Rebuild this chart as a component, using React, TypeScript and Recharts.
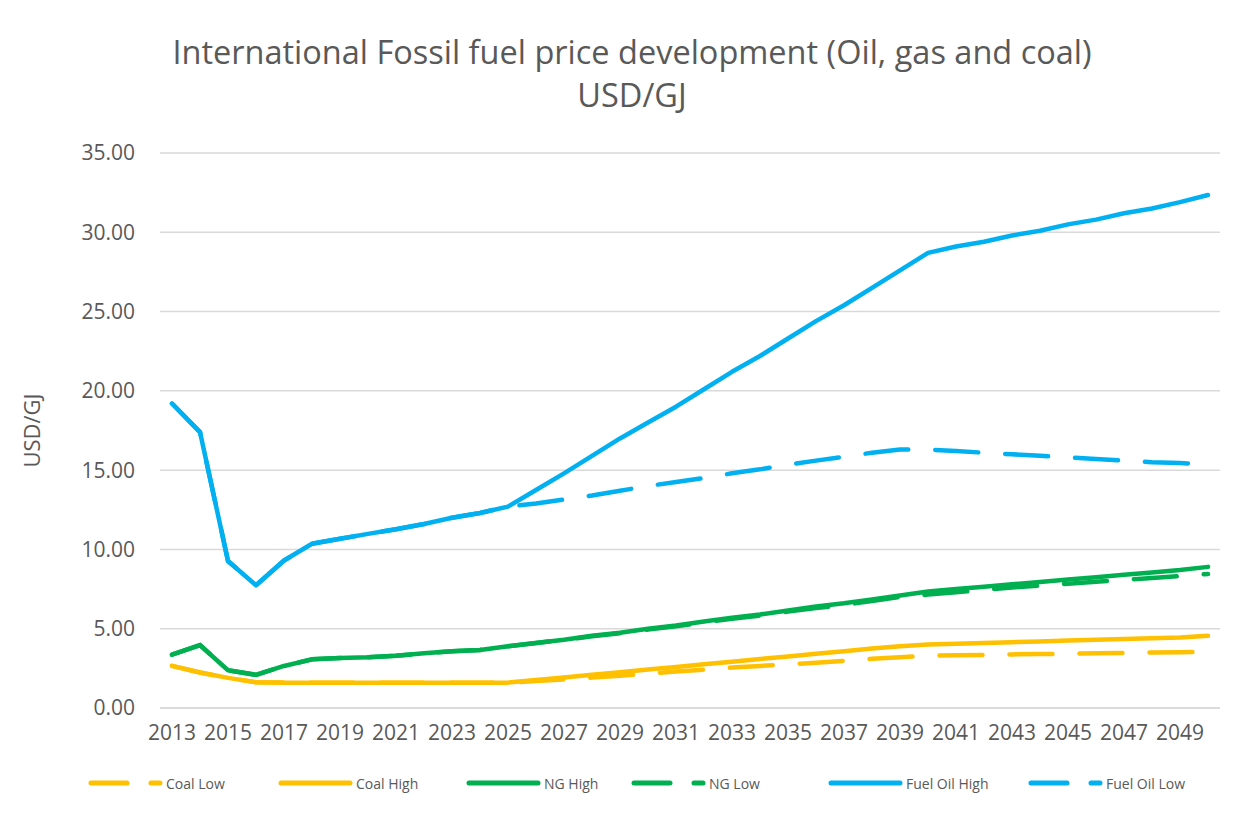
import React from "react";
import { LineChart, Line, XAxis, YAxis, CartesianGrid } from "recharts";

const years = [
  2013, 2014, 2015, 2016, 2017, 2018, 2019, 2020, 2021, 2022, 2023, 2024, 2025,
  2026, 2027, 2028, 2029, 2030, 2031, 2032, 2033, 2034, 2035, 2036, 2037, 2038,
  2039, 2040, 2041, 2042, 2043, 2044, 2045, 2046, 2047, 2048, 2049, 2050,
];

const coalLow = [
  2.66, 2.24, 1.9, 1.62, 1.6, 1.6, 1.6, 1.6, 1.6, 1.6, 1.6, 1.6, 1.6,
  1.7, 1.8, 1.92, 2.04, 2.16, 2.3, 2.42, 2.55, 2.65, 2.75, 2.85, 2.97, 3.1,
  3.2, 3.3, 3.32, 3.35, 3.38, 3.4, 3.42, 3.45, 3.47, 3.5, 3.52, 3.55,
];

const coalHigh = [
  2.66, 2.24, 1.9, 1.62, 1.6, 1.6, 1.6, 1.6, 1.6, 1.6, 1.6, 1.6, 1.6,
  1.77, 1.93, 2.1, 2.26, 2.43, 2.59, 2.76, 2.92, 3.09, 3.25, 3.42, 3.58, 3.75,
  3.9, 4.0, 4.05, 4.1, 4.15, 4.2, 4.25, 4.3, 4.35, 4.4, 4.45, 4.55,
];

const ngHigh = [
  3.36, 3.97, 2.38, 2.09, 2.65, 3.07, 3.15, 3.2, 3.3, 3.45, 3.58, 3.66, 3.9,
  4.1, 4.3, 4.55, 4.75, 5.0, 5.2, 5.45, 5.7, 5.9, 6.15, 6.4, 6.6, 6.85,
  7.1, 7.35, 7.5, 7.65, 7.8, 7.95, 8.1, 8.25, 8.4, 8.55, 8.7, 8.9,
];

const ngLow = [
  3.36, 3.97, 2.38, 2.09, 2.65, 3.07, 3.15, 3.2, 3.3, 3.45, 3.58, 3.66, 3.9,
  4.1, 4.3, 4.52, 4.72, 4.95, 5.15, 5.4, 5.63, 5.83, 6.08, 6.3, 6.5, 6.75,
  7.0, 7.15, 7.3, 7.45, 7.6, 7.72, 7.84, 7.96, 8.08, 8.2, 8.32, 8.45,
];

const fuelOilHigh = [
  19.2, 17.4, 9.27, 7.74, 9.3, 10.36, 10.67, 10.98, 11.27, 11.6, 12.0, 12.3, 12.7,
  13.75, 14.8, 15.9, 17.0, 18.0, 19.0, 20.1, 21.2, 22.2, 23.3, 24.4, 25.4, 26.5,
  27.6, 28.7, 29.1, 29.4, 29.8, 30.1, 30.5, 30.8, 31.2, 31.5, 31.9, 32.35,
];

const fuelOilLow = [
  19.2, 17.4, 9.27, 7.74, 9.3, 10.36, 10.67, 10.98, 11.27, 11.6, 12.0, 12.3, 12.7,
  12.9, 13.15, 13.4, 13.7, 14.0, 14.25, 14.5, 14.8, 15.05, 15.35, 15.6, 15.85, 16.1,
  16.3, 16.3, 16.2, 16.1, 16.0, 15.9, 15.8, 15.7, 15.6, 15.5, 15.45, 15.35,
];

const yTicks = [0, 5, 10, 15, 20, 25, 30, 35];

const data = years.map((y, i) => ({
  year: String(y),
  coalLow: coalLow[i],
  coalHigh: coalHigh[i],
  ngHigh: ngHigh[i],
  ngLow: ngLow[i],
  fuelOilHigh: fuelOilHigh[i],
  fuelOilLow: fuelOilLow[i],
}));

const YELLOW = "#FFC000";
const GREEN = "#00B050";
const BLUE = "#00B0F0";
const TEXT = "#595959";
const DASH = "43 27";

const legendItems = [
  { name: "Coal Low", color: YELLOW, dashed: true },
  { name: "Coal High", color: YELLOW, dashed: false },
  { name: "NG High", color: GREEN, dashed: false },
  { name: "NG Low", color: GREEN, dashed: true },
  { name: "Fuel Oil High", color: BLUE, dashed: false },
  { name: "Fuel Oil Low", color: BLUE, dashed: true },
];
const legendLeft = [88, 278, 466, 631, 828, 1028];

const font = "'Open Sans', 'Liberation Sans', sans-serif";

export default function App() {
  return (
    <div
      style={{
        position: "absolute",
        left: 0,
        top: 0,
        width: 1258,
        height: 817,
        background: "#fff",
        fontFamily: font,
      }}
    >
      <div
        style={{
          position: "absolute",
          left: 0,
          top: 30,
          width: 1264,
          textAlign: "center",
          fontSize: 32.5,
          lineHeight: "43px",
          color: TEXT,
        }}
      >
        International Fossil fuel price development (Oil, gas and coal)
        <br />
        USD/GJ
      </div>
      <LineChart
        width={1258}
        height={817}
        data={data}
        margin={{ top: 153, right: 38, bottom: 69, left: 53 }}
      >
        <CartesianGrid vertical={false} stroke="#D9D9D9" strokeWidth={1.5} />
        <XAxis
          dataKey="year"
          interval={1}
          padding={{ left: 12, right: 12 }}
          tickLine={false}
          axisLine={{ stroke: "#D9D9D9", strokeWidth: 1.5 }}
          tick={{ fill: TEXT, fontSize: 21, fontFamily: font }}
          tickMargin={11}
          height={40}
        />
        <YAxis
          domain={[0, 35]}
          ticks={yTicks}
          tickFormatter={(v: number) => v.toFixed(2)}
          tickLine={false}
          axisLine={false}
          tick={{ fill: TEXT, fontSize: 21, fontFamily: font }}
          tickMargin={19}
          width={107}
          label={{
            value: "USD/GJ",
            angle: -90,
            position: "insideLeft",
            offset: -21,
            style: { fill: TEXT, fontSize: 22, fontFamily: font, textAnchor: "middle" },
          }}
        />
        <Line dataKey="coalLow" stroke={YELLOW} strokeWidth={4.5} strokeDasharray={DASH} strokeLinecap="round" dot={false} isAnimationActive={false} />
        <Line dataKey="coalHigh" stroke={YELLOW} strokeWidth={4.5} strokeLinecap="round" strokeLinejoin="round" dot={false} isAnimationActive={false} />
        <Line dataKey="ngHigh" stroke={GREEN} strokeWidth={4.5} strokeLinecap="round" strokeLinejoin="round" dot={false} isAnimationActive={false} />
        <Line dataKey="ngLow" stroke={GREEN} strokeWidth={4.5} strokeDasharray={DASH} strokeLinecap="round" dot={false} isAnimationActive={false} />
        <Line dataKey="fuelOilHigh" stroke={BLUE} strokeWidth={4.5} strokeLinecap="round" strokeLinejoin="round" dot={false} isAnimationActive={false} />
        <Line dataKey="fuelOilLow" stroke={BLUE} strokeWidth={4.5} strokeDasharray={DASH} strokeLinecap="round" dot={false} isAnimationActive={false} />
      </LineChart>
      {legendItems.map((it, i) => (
        <div
          key={it.name}
          style={{
            position: "absolute",
            left: legendLeft[i],
            top: 773,
            display: "flex",
            alignItems: "center",
            fontSize: 14,
            color: TEXT,
            whiteSpace: "nowrap",
          }}
        >
          <svg width={76} height={20}>
            <line
              x1={3}
              y1={10}
              x2={72}
              y2={10}
              stroke={it.color}
              strokeWidth={5}
              strokeLinecap="round"
              strokeDasharray={it.dashed ? "36 24" : undefined}
            />
          </svg>
          <span style={{ marginLeft: 2 }}>{it.name}</span>
        </div>
      ))}
    </div>
  );
}
